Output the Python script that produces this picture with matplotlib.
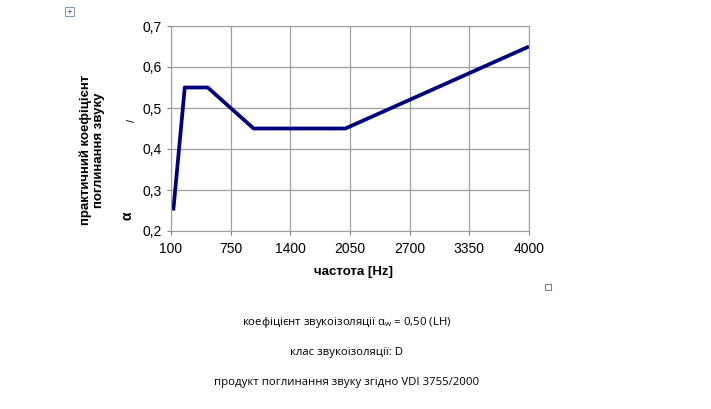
import matplotlib.pyplot as plt
from matplotlib.patches import Rectangle

plt.rcParams['font.family'] = ['Liberation Sans', 'DejaVu Sans']

freq = [125, 250, 500, 1000, 2000, 4000]
alpha = [0.25, 0.55, 0.55, 0.45, 0.45, 0.65]
xticks = [100, 750, 1400, 2050, 2700, 3350, 4000]
yticks = [0.2, 0.3, 0.4, 0.5, 0.6, 0.7]
notes = ['коефіцієнт звукоізоляції $\\mathregular{\\alpha_w}$ = 0,50 (LH)',
         'клас звукоізоляції: D',
         'продукт поглинання звуку згідно VDI 3755/2000']

fig = plt.figure(figsize=(7.11, 4.09), dpi=100)
ax = fig.add_axes([171/711, 1-231/409, (529-171)/711, (231-26)/409])

ax.plot(freq, alpha, color='#000080', lw=2.7, solid_capstyle='butt')
ax.set_xlim(100, 4000)
ax.set_ylim(0.2, 0.7)
ax.set_xticks(xticks)
ax.set_yticks(yticks)
ax.set_yticklabels([('%.1f' % v).replace('.', ',') for v in yticks])
ax.grid(True, color='#a0a0a0', lw=0.9)
for s in ax.spines.values():
    s.set_color('#a0a0a0')
ax.tick_params(colors='#808080', labelcolor='black', labelsize=10, length=3)
ax.tick_params(axis='x', pad=5)

fig.text(353/711, 1-272/409, 'частота [Hz]', fontsize=9.5, fontweight='bold',
         ha='center', va='center')
fig.text(92/711, 1-150/409, 'практичний коефіцієнт\nпоглинання звуку', fontsize=9.5,
         fontweight='bold', rotation=90, ha='center', va='center', linespacing=1.15)
fig.text(128/711, 1-216/409, 'α', fontsize=10, fontweight='bold', rotation=90,
         ha='center', va='center')
fig.text(132/711, 1-120/409, '/', fontsize=8, rotation=90, ha='center', va='center')

for y, t in zip([322, 352, 383], notes):
    fig.text(347/711, 1-y/409, t, fontsize=8.2, ha='center', va='center',
             family=['Open Sans', 'DejaVu Sans'])

# small frame markers from the original document
fig.add_artist(Rectangle((65/711, 1-16/409), 9/711, 9/409, transform=fig.transFigure,
                         fill=False, ec='#7f9db9', lw=0.8))
fig.text(69.5/711, 1-11.5/409, '+', fontsize=7, color='#3060c0', ha='center', va='center')
fig.add_artist(Rectangle((545/711, 1-290/409), 6/711, 6/409, transform=fig.transFigure,
                         fill=False, ec='#808080', lw=0.8))

fig.savefig('out.png', dpi=100)
